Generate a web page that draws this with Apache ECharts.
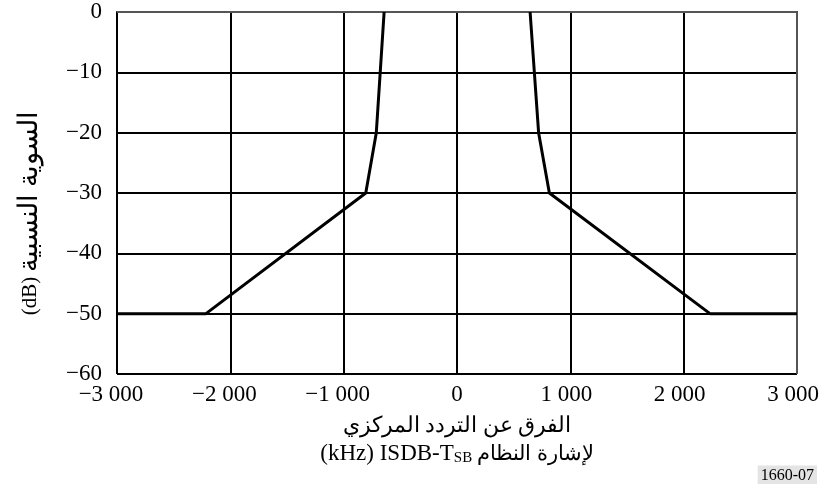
<!DOCTYPE html>
<html>
<head>
<meta charset="utf-8">
<script src="https://cdn.jsdelivr.net/npm/echarts@6/dist/echarts.min.js"></script>
<style>
html,body{margin:0;padding:0;background:#fff;}
#chart{width:821px;height:484px;}
</style>
</head>
<body>
<div id="chart"></div>
<script>
// Spectrum mask data (kHz offset, dB)
const leftFreq = [-3000, -2215, -805, -712, -643];
const leftLevel = [-50, -50, -30, -20, 0];
const rightFreq = [645, 720, 815, 2232, 3000];
const rightLevel = [0, -20, -30, -50, -50];

const xTickValues = [-3000, -2000, -1000, 0, 1000, 2000, 3000];
const xTickLabels = ['\u22123 000', '\u22122 000', '\u22121 000', '0', '1 000', '2 000', '3 000'];
const yTickValues = [-60, -50, -40, -30, -20, -10, 0];
const yTickLabels = ['\u221260', '\u221250', '\u221240', '\u221230', '\u221220', '\u221210', '0'];

const yTitleUnit = '(dB) ';
const yTitleText = 'السوية النسبية';
const xTitleLine1 = 'الفرق عن التردد المركزي';
const xTitleLine2a = '(kHz) ISDB-T';
const xTitleSub = 'SB';
const xTitleLine2b = ' لإشارة النظام';
const figId = '1660-07';

const FONT = '"Liberation Serif", "Times New Roman", "DejaVu Serif", serif';

function zip(xs, ys) { return xs.map((x, i) => [x, ys[i]]); }

const chart = echarts.init(document.getElementById('chart'), null, {renderer: 'canvas'});
chart.setOption({
  animation: false,
  backgroundColor: '#fff',
  grid: {left: 117, right: 24, top: 12, bottom: 110, containLabel: false, outerBoundsMode: 'none'},
  xAxis: {
    type: 'value', min: -3000, max: 3000, interval: 1000,
    axisLine: {show: true, lineStyle: {color: '#000', width: 2}},
    axisTick: {show: false},
    splitLine: {show: true, lineStyle: {color: '#000', width: 2}},
    axisLabel: {
      color: '#000', fontFamily: FONT, fontSize: 23, margin: 9,
      formatter: v => {
        const t = xTickLabels[xTickValues.indexOf(v)];
        if (v < 0) return '{n|' + t + '}';
        if (v > 0) return '{p|' + t + '}';
        return '{z|' + t + '}';
      },
      rich: {
        n: {fontFamily: FONT, fontSize: 23, color: '#000', padding: [0, 12, 0, 0]},
        p: {fontFamily: FONT, fontSize: 23, color: '#000', padding: [0, 8, 0, 0]},
        z: {fontFamily: FONT, fontSize: 23, color: '#000'}
      }
    }
  },
  yAxis: {
    type: 'value', min: -60, max: 0, interval: 10,
    axisLine: {show: true, lineStyle: {color: '#000', width: 2}},
    axisTick: {show: false},
    splitLine: {show: true, lineStyle: {color: '#000', width: 2}},
    axisLabel: {
      color: '#000', fontFamily: FONT, fontSize: 23, margin: 15,
      formatter: v => yTickLabels[yTickValues.indexOf(v)]
    }
  },
  graphic: [
    {type: 'line', shape: {x1: 797, y1: 12, x2: 797, y2: 374}, style: {stroke: '#555', lineWidth: 2}, silent: true, z: 3},
    {type: 'line', shape: {x1: 117, y1: 12, x2: 797, y2: 12}, style: {stroke: '#555', lineWidth: 2}, silent: true, z: 3},
    {
      type: 'text', x: 30, y: 213, rotation: Math.PI / 2,
      style: {
        text: '{u|' + yTitleUnit + '}{a|' + yTitleText + '}',
        align: 'center', verticalAlign: 'middle',
        rich: {
          u: {fontFamily: FONT, fontSize: 21, fill: '#000', color: '#000'},
          a: {fontFamily: FONT, fontSize: 27, fill: '#000', color: '#000'}
        }
      }
    },
    {
      type: 'text', x: 457, y: 426,
      style: {text: xTitleLine1, font: '22px ' + FONT, fill: '#000', align: 'center', verticalAlign: 'middle'}
    },
    {
      type: 'text', x: 457, y: 454,
      style: {
        text: '{a|' + xTitleLine2a + '}{s|' + xTitleSub + '}{b|' + xTitleLine2b + '}',
        align: 'center', verticalAlign: 'middle',
        rich: {
          a: {fontFamily: FONT, fontSize: 23, fill: '#000', color: '#000'},
          b: {fontFamily: FONT, fontSize: 21, fill: '#000', color: '#000'},
          s: {fontFamily: FONT, fontSize: 15, fill: '#000', color: '#000', padding: [9, 0, 0, 0]}
        }
      }
    },
    {
      type: 'text', x: 817, y: 476,
      style: {text: figId, font: '16px ' + FONT, fill: '#000', align: 'right', verticalAlign: 'middle',
        backgroundColor: '#e4e4e4', padding: [3, 3, 2, 3]}
    }
  ],
  series: [
    {type: 'line', data: zip(leftFreq, leftLevel), showSymbol: false, symbol: 'none',
     lineStyle: {color: '#000', width: 3}, z: 5},
    {type: 'line', data: zip(rightFreq, rightLevel), showSymbol: false, symbol: 'none',
     lineStyle: {color: '#000', width: 3}, z: 5}
  ]
});
</script>
</body>
</html>
